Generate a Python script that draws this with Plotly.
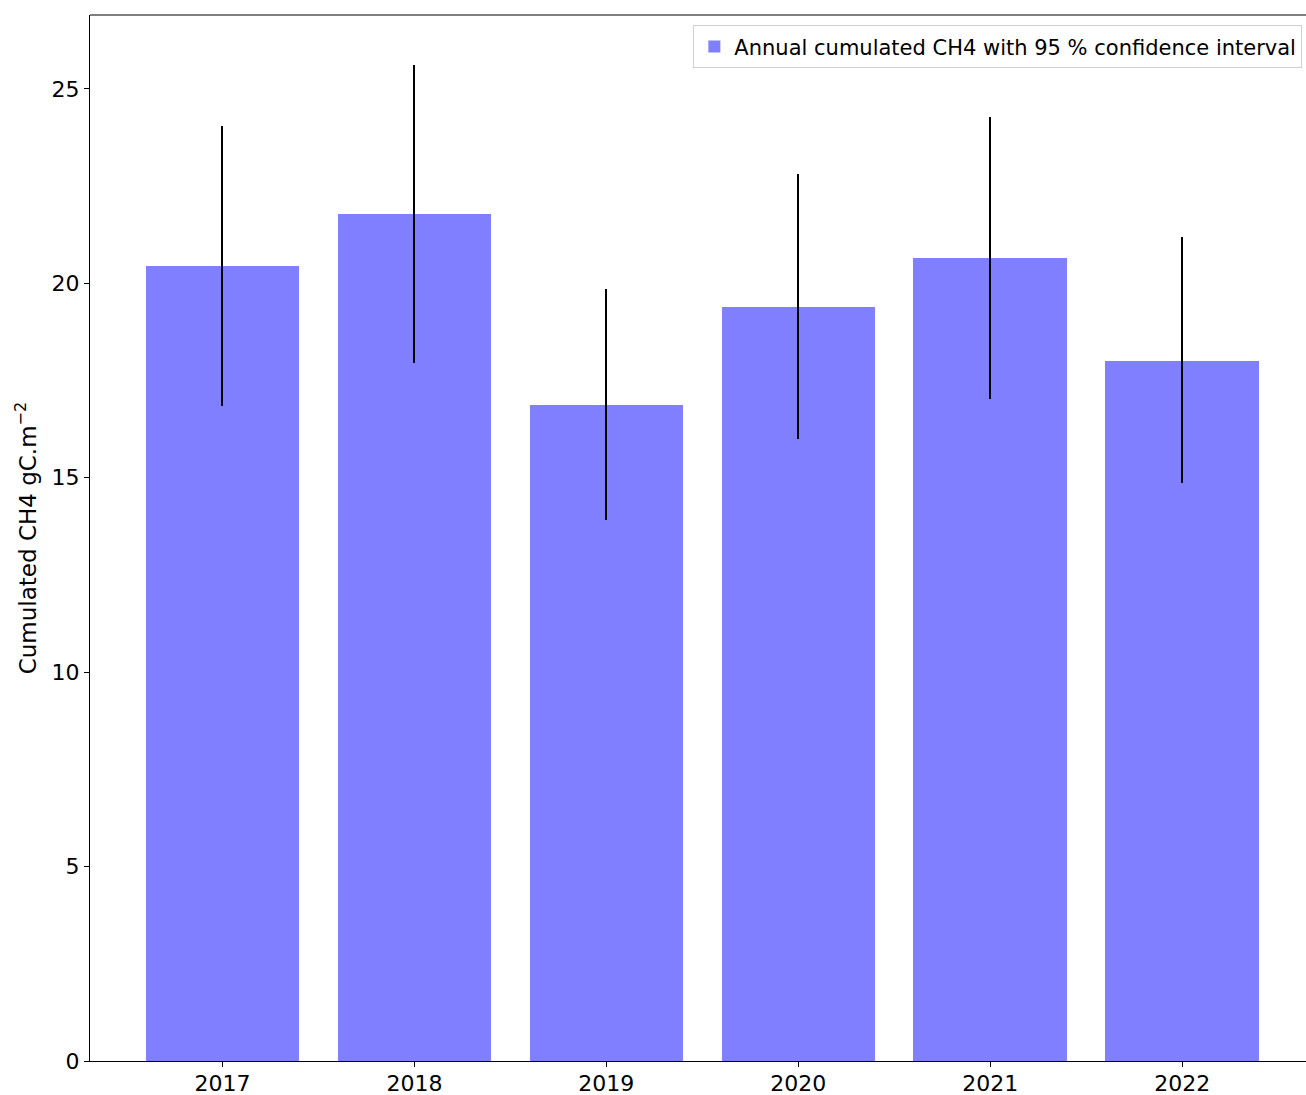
import plotly.graph_objects as go

years = [2017, 2018, 2019, 2020, 2021, 2022]
ch4_total = [20.45, 21.78, 16.87, 19.39, 20.65, 18.00]
ci_upper = [24.05, 25.62, 19.86, 22.81, 24.28, 21.19]
ci_lower = [16.85, 17.95, 13.91, 16.00, 17.03, 14.87]

err_plus = [u - v for u, v in zip(ci_upper, ch4_total)]
err_minus = [v - l for v, l in zip(ch4_total, ci_lower)]

font_family = "DejaVu Sans"

fig = go.Figure()
fig.add_trace(go.Bar(
    x=years,
    y=ch4_total,
    width=0.8,
    marker=dict(color="rgba(0,0,255,0.5)", line=dict(width=0)),
    name="Annual cumulated CH4 with 95 % confidence interval",
    error_y=dict(type="data", symmetric=False, array=err_plus, arrayminus=err_minus,
                 color="black", thickness=2, width=0),
    showlegend=True,
))

fig.update_layout(
    width=1306,
    height=1095,
    margin=dict(l=90, r=0, t=15, b=34),
    plot_bgcolor="white",
    paper_bgcolor="white",
    font=dict(family=font_family, size=22, color="black"),
    bargap=0,
    legend=dict(
        x=0.997, xanchor="right", y=0.99, yanchor="top",
        bgcolor="white", bordercolor="#d0d0d0", borderwidth=1,
        font=dict(size=21),
    ),
    xaxis=dict(
        range=[2016.31, 2022.645],
        tickmode="array",
        tickvals=years,
        ticktext=[str(y) for y in years],
        showgrid=False, zeroline=False,
        showline=True, linecolor="black", linewidth=1,
        ticks="outside", ticklen=5, tickcolor="black",
        tickfont=dict(size=22),
        automargin=False,
        ticklabelstandoff=-2,
    ),
    yaxis=dict(
        range=[0, 26.9],
        tickvals=[0, 5, 10, 15, 20, 25],
        showgrid=False, zeroline=False,
        showline=True, linecolor="black", linewidth=1,
        ticks="outside", ticklen=5, tickcolor="black",
        tickfont=dict(size=22),
        automargin=False,
        title=dict(text="Cumulated CH4 gC.m<sup>−2</sup>", standoff=8, font=dict(size=23)),
    ),
    shapes=[dict(type="line", xref="paper", yref="paper", x0=0, x1=1, y0=1, y1=1,
                 line=dict(color="black", width=1))],
)

fig.write_html("out.html", config={"displayModeBar": False},
               post_script="document.body.style.margin='0';document.body.style.overflow='hidden';")
